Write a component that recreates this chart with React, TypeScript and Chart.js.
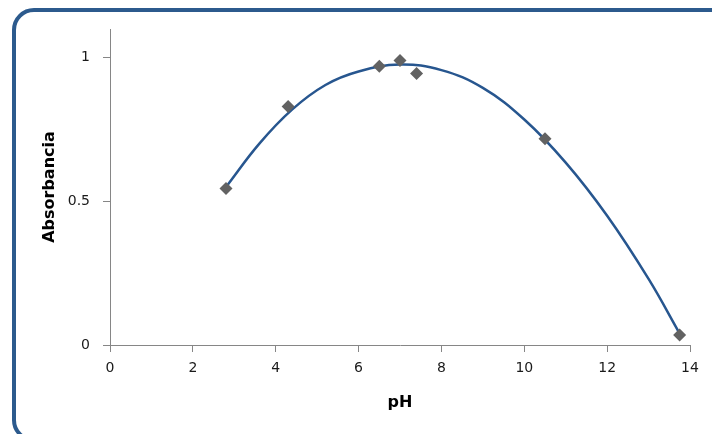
import React, { useEffect, useRef } from "react";
import { Chart, registerables } from "chart.js";

Chart.register(...registerables);

// Measured points (pH, Absorbancia)
const phValues = [2.8, 4.3, 6.5, 7.0, 7.4, 10.5, 13.75];
const absValues = [0.545, 0.83, 0.97, 0.99, 0.945, 0.718, 0.035];

// Trendline
const trendX = [2.8, 3.6, 4.4, 5.2, 6.0, 7.0, 8.0, 9.0, 10.0, 11.0, 12.0, 13.0, 13.75];
const trendY = [0.55, 0.70, 0.82, 0.905, 0.952, 0.976, 0.957, 0.895, 0.785, 0.635, 0.45, 0.23, 0.04];

const yTicks = [0, 0.5, 1];
const xTicks = [0, 2, 4, 6, 8, 10, 12, 14];

const xTitle = "pH";
const yTitle = "Absorbancia";

export default function App() {
  const canvasRef = useRef<HTMLCanvasElement | null>(null);

  useEffect(() => {
    if (!canvasRef.current) return;
    const axisColor = "#868686";
    const tickFont = { family: "DejaVu Sans", size: 14 };
    const titleFont = { family: "DejaVu Sans", size: 16, weight: "bold" as const };
    const chart = new Chart(canvasRef.current, {
      type: "scatter",
      data: {
        datasets: [
          {
            type: "line",
            data: trendX.map((x, i) => ({ x, y: trendY[i] })),
            borderColor: "#27568F",
            borderWidth: 2.5,
            pointRadius: 0,
            fill: false,
            tension: 0.4,
            order: 1,
          } as any,
          {
            type: "scatter",
            data: phValues.map((x, i) => ({ x, y: absValues[i] })),
            pointStyle: "rectRot",
            pointRadius: 6.5,
            backgroundColor: "#626262",
            borderColor: "#626262",
            borderWidth: 0,
            order: 0,
          },
        ],
      },
      options: {
        responsive: false,
        animation: false,
        events: [],
        layout: { padding: { left: 0, right: 22, top: 29, bottom: 0 } },
        plugins: { legend: { display: false }, tooltip: { enabled: false } },
        scales: {
          x: {
            type: "linear",
            min: 0,
            max: 14,
            afterBuildTicks: (s: any) => {
              s.ticks = xTicks.map((v) => ({ value: v }));
            },
            afterFit: (s: any) => {
              s.height = 89;
            },
            grid: {
              display: true,
              drawOnChartArea: false,
              drawTicks: true,
              tickLength: 7,
              color: axisColor,
            },
            border: { display: true, color: axisColor, width: 1 },
            ticks: {
              font: tickFont,
              color: "#1a1a1a",
              padding: 8,
              maxRotation: 0,
              callback: (v: any) => String(v),
            },
            title: {
              display: true,
              text: xTitle,
              font: titleFont,
              color: "#000",
              padding: { top: 0, bottom: 22 },
            },
          },
          y: {
            type: "linear",
            min: 0,
            max: 1.1,
            afterBuildTicks: (s: any) => {
              s.ticks = yTicks.map((v) => ({ value: v }));
            },
            afterFit: (s: any) => {
              s.width = 110;
            },
            grid: {
              display: true,
              drawOnChartArea: false,
              drawTicks: true,
              tickLength: 7,
              color: axisColor,
            },
            border: { display: true, color: axisColor, width: 1 },
            ticks: {
              font: tickFont,
              color: "#1a1a1a",
              padding: 13,
              callback: (v: any) => String(v),
            },
            title: {
              display: true,
              text: yTitle,
              font: titleFont,
              color: "#000",
              padding: { top: 40, bottom: 0 },
            },
          },
        },
      },
    });
    return () => chart.destroy();
  }, []);

  return (
    <div
      style={{
        position: "absolute",
        left: 0,
        top: 0,
        width: 712,
        height: 434,
        overflow: "hidden",
        background: "#fff",
      }}
    >
      <div
        style={{
          position: "absolute",
          left: 12,
          top: 8,
          width: 724,
          height: 434,
          border: "4px solid #2C5A8D",
          borderRadius: 22,
          boxSizing: "border-box",
        }}
      />
      <canvas
        ref={canvasRef}
        width={712}
        height={434}
        style={{ position: "absolute", left: 0, top: 0, width: 712, height: 434 }}
      />
    </div>
  );
}
